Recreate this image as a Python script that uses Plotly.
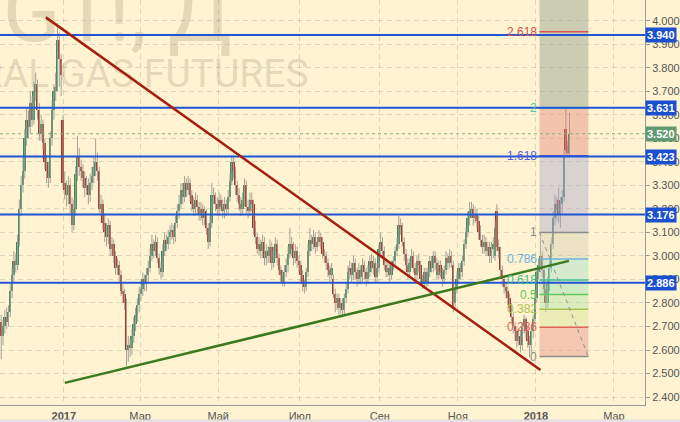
import pandas as pd
import plotly.graph_objects as go

# NG1! daily candles, 14 Nov 2016 .. 25 Jan 2018
opens = [
    2.72, 2.66, 2.70, 2.74, 2.72, 2.76, 2.85, 2.92, 2.98, 2.96,
    3.06, 3.20, 3.30, 3.36, 3.50, 3.58, 3.55, 3.65, 3.58, 3.70,
    3.73, 3.62, 3.52, 3.56, 3.48, 3.40, 3.36, 3.33, 3.50, 3.62,
    3.70, 3.72, 3.92, 3.84, 3.58, 3.31, 3.28, 3.26, 3.30, 3.22,
    3.13, 3.20, 3.35, 3.42, 3.38, 3.36, 3.33, 3.29, 3.30, 3.26,
    3.31, 3.34, 3.38, 3.40, 3.36, 3.20, 3.22, 3.14, 3.10, 3.08,
    3.13, 3.03, 3.05, 3.00, 2.95, 2.96, 2.92, 2.85, 2.84, 2.80,
    2.60, 2.62, 2.61, 2.66, 2.71, 2.75, 2.79, 2.84, 2.86, 2.90,
    2.88, 2.92, 2.95, 3.00, 3.05, 3.02, 3.06, 2.99, 2.95, 2.93,
    3.02, 3.07, 3.05, 3.08, 3.10, 3.11, 3.08, 3.14, 3.19, 3.22,
    3.28, 3.25, 3.31, 3.28, 3.31, 3.26, 3.22, 3.20, 3.24, 3.21,
    3.18, 3.20, 3.16, 3.19, 3.12, 3.06, 3.14, 3.26, 3.25, 3.22,
    3.20, 3.24, 3.21, 3.19, 3.22, 3.20, 3.25, 3.32, 3.40, 3.36,
    3.30, 3.26, 3.22, 3.20, 3.24, 3.30, 3.21, 3.19, 3.24, 3.22,
    3.12, 3.08, 3.03, 3.05, 3.02, 3.06, 2.99, 3.02, 3.00, 3.04,
    2.97, 3.02, 3.05, 2.99, 2.94, 2.92, 2.89, 2.93, 2.96, 3.01,
    3.05, 3.03, 2.99, 3.02, 2.98, 2.96, 2.92, 2.88, 2.87, 2.93,
    3.02, 3.07, 3.05, 3.08, 3.04, 3.06, 3.08, 3.06, 3.01, 3.00,
    2.97, 2.94, 2.92, 2.90, 2.84, 2.80, 2.82, 2.78, 2.80, 2.77,
    2.82, 2.86, 2.93, 2.95, 2.92, 2.97, 2.93, 2.90, 2.94, 2.91,
    2.96, 2.93, 2.90, 2.93, 2.98, 2.95, 2.97, 2.91, 2.95, 3.03,
    3.06, 3.02, 2.96, 2.93, 2.95, 2.92, 2.96, 2.98, 3.02, 3.05,
    3.13, 3.12, 3.06, 3.01, 2.96, 2.93, 2.97, 3.00, 2.95, 2.92,
    2.98, 2.96, 2.90, 2.88, 2.93, 2.89, 2.93, 2.98, 2.95, 3.00,
    2.97, 2.92, 2.96, 2.93, 2.90, 2.94, 2.99, 2.97, 3.00, 2.96,
    2.80, 2.86, 2.90, 2.95, 2.93, 2.98, 3.05, 3.10, 3.16, 3.19,
    3.20, 3.16, 3.18, 3.15, 3.10, 3.07, 3.04, 3.06, 3.02, 3.04,
    3.00, 3.03, 3.00, 3.19, 3.04, 3.02, 2.94, 2.90, 2.87, 2.85,
    2.82, 2.78, 2.74, 2.70, 2.68, 2.64, 2.66, 2.62, 2.70, 2.73,
    2.68, 2.64, 2.62, 2.68, 2.73, 2.82, 2.93, 2.96, 3.00, 2.94,
    2.86, 2.80, 2.88, 2.95, 3.05, 3.16, 3.22, 3.24, 3.18, 3.22,
    3.25, 3.54, 3.47, 3.44,
]
highs = [
    2.75, 2.73, 2.77, 2.78, 2.79, 2.88, 2.95, 3.02, 3.01, 3.09,
    3.24, 3.34, 3.42, 3.54, 3.63, 3.62, 3.70, 3.68, 3.74, 3.78,
    3.75, 3.65, 3.60, 3.58, 3.50, 3.43, 3.40, 3.53, 3.66, 3.73,
    3.78, 3.99, 3.95, 3.86, 3.60, 3.36, 3.32, 3.34, 3.33, 3.25,
    3.24, 3.38, 3.51, 3.46, 3.41, 3.39, 3.36, 3.34, 3.33, 3.35,
    3.38, 3.42, 3.50, 3.44, 3.38, 3.26, 3.24, 3.18, 3.14, 3.16,
    3.15, 3.08, 3.07, 3.02, 2.99, 2.98, 2.94, 2.88, 2.86, 2.82,
    2.66, 2.65, 2.69, 2.74, 2.78, 2.82, 2.87, 2.89, 2.93, 2.92,
    2.95, 2.98, 3.03, 3.09, 3.07, 3.09, 3.08, 3.01, 2.97, 3.05,
    3.10, 3.09, 3.11, 3.13, 3.14, 3.13, 3.17, 3.22, 3.26, 3.31,
    3.31, 3.34, 3.33, 3.34, 3.33, 3.28, 3.25, 3.27, 3.26, 3.23,
    3.23, 3.22, 3.21, 3.20, 3.14, 3.17, 3.31, 3.29, 3.27, 3.25,
    3.27, 3.26, 3.24, 3.25, 3.24, 3.28, 3.35, 3.43, 3.42, 3.38,
    3.32, 3.29, 3.25, 3.27, 3.33, 3.32, 3.24, 3.27, 3.27, 3.24,
    3.15, 3.10, 3.08, 3.07, 3.09, 3.08, 3.05, 3.04, 3.07, 3.06,
    3.04, 3.08, 3.07, 3.01, 2.96, 2.94, 2.96, 2.99, 3.04, 3.12,
    3.08, 3.06, 3.05, 3.04, 3.00, 2.98, 2.94, 2.90, 2.95, 3.05,
    3.12, 3.09, 3.11, 3.10, 3.08, 3.11, 3.10, 3.08, 3.03, 3.02,
    2.99, 2.96, 2.97, 2.92, 2.86, 2.84, 2.84, 2.82, 2.82, 2.84,
    2.89, 2.96, 2.98, 2.97, 3.00, 2.99, 2.95, 2.97, 2.96, 2.99,
    2.98, 2.95, 2.96, 3.00, 3.01, 3.00, 2.99, 2.97, 3.05, 3.10,
    3.08, 3.04, 2.99, 2.98, 2.97, 2.98, 3.00, 3.04, 3.08, 3.17,
    3.16, 3.14, 3.08, 3.03, 2.99, 2.99, 3.03, 3.02, 2.97, 3.00,
    3.01, 2.98, 2.92, 2.95, 2.95, 2.95, 3.00, 3.00, 3.02, 3.02,
    2.99, 2.98, 2.98, 2.95, 2.96, 3.02, 3.01, 3.03, 3.02, 2.98,
    2.88, 2.93, 2.97, 2.97, 3.00, 3.07, 3.12, 3.19, 3.23, 3.23,
    3.22, 3.21, 3.20, 3.17, 3.13, 3.09, 3.09, 3.08, 3.06, 3.06,
    3.06, 3.08, 3.15, 3.22, 3.07, 3.04, 2.96, 2.92, 2.89, 2.87,
    2.84, 2.80, 2.76, 2.72, 2.70, 2.69, 2.68, 2.72, 2.75, 2.74,
    2.70, 2.66, 2.70, 2.75, 2.85, 2.95, 2.99, 3.08, 3.02, 2.96,
    2.88, 2.91, 2.98, 3.08, 3.19, 3.26, 3.25, 3.29, 3.25, 3.28,
    3.45, 3.63, 3.49, 3.61,
]
lows = [
    2.56, 2.62, 2.67, 2.69, 2.70, 2.74, 2.82, 2.89, 2.93, 2.94,
    3.04, 3.17, 3.27, 3.33, 3.47, 3.50, 3.52, 3.55, 3.56, 3.66,
    3.58, 3.49, 3.49, 3.45, 3.37, 3.31, 3.29, 3.31, 3.47, 3.58,
    3.66, 3.70, 3.72, 3.68, 3.29, 3.24, 3.21, 3.22, 3.18, 3.10,
    3.11, 3.17, 3.32, 3.34, 3.32, 3.29, 3.25, 3.26, 3.22, 3.23,
    3.28, 3.31, 3.34, 3.32, 3.18, 3.17, 3.11, 3.06, 3.04, 3.05,
    3.00, 3.00, 2.97, 2.92, 2.92, 2.89, 2.83, 2.80, 2.77, 2.53,
    2.55, 2.57, 2.58, 2.63, 2.68, 2.72, 2.76, 2.81, 2.83, 2.85,
    2.85, 2.89, 2.93, 2.98, 2.99, 3.00, 2.97, 2.92, 2.90, 2.91,
    3.00, 3.02, 3.03, 3.05, 3.07, 3.05, 3.06, 3.12, 3.16, 3.20,
    3.22, 3.23, 3.25, 3.26, 3.23, 3.19, 3.17, 3.18, 3.18, 3.15,
    3.15, 3.13, 3.13, 3.09, 3.03, 3.04, 3.12, 3.22, 3.19, 3.17,
    3.17, 3.19, 3.16, 3.16, 3.17, 3.18, 3.23, 3.30, 3.33, 3.26,
    3.23, 3.19, 3.17, 3.18, 3.21, 3.18, 3.16, 3.17, 3.19, 3.09,
    3.05, 3.01, 3.00, 2.99, 2.99, 2.96, 2.96, 2.97, 2.97, 2.94,
    2.95, 2.99, 2.96, 2.92, 2.89, 2.87, 2.87, 2.91, 2.93, 2.99,
    3.00, 2.96, 2.97, 2.95, 2.93, 2.89, 2.85, 2.84, 2.85, 2.91,
    3.00, 3.02, 3.03, 3.01, 3.02, 3.04, 3.03, 2.99, 2.97, 2.94,
    2.91, 2.89, 2.90, 2.82, 2.76, 2.77, 2.75, 2.75, 2.74, 2.75,
    2.80, 2.84, 2.90, 2.89, 2.90, 2.90, 2.87, 2.88, 2.88, 2.89,
    2.90, 2.87, 2.88, 2.91, 2.93, 2.92, 2.89, 2.89, 2.93, 3.00,
    3.00, 2.94, 2.91, 2.91, 2.89, 2.90, 2.94, 2.96, 3.00, 3.03,
    3.09, 3.04, 2.98, 2.94, 2.90, 2.91, 2.95, 2.93, 2.89, 2.90,
    2.93, 2.88, 2.86, 2.86, 2.87, 2.87, 2.91, 2.93, 2.93, 2.94,
    2.90, 2.90, 2.91, 2.87, 2.88, 2.92, 2.94, 2.95, 2.95, 2.76,
    2.78, 2.84, 2.88, 2.90, 2.91, 2.96, 3.03, 3.08, 3.13, 3.16,
    3.13, 3.14, 3.12, 3.07, 3.04, 3.01, 3.01, 3.00, 3.00, 2.97,
    2.97, 2.99, 2.98, 3.02, 2.99, 2.91, 2.87, 2.84, 2.82, 2.79,
    2.76, 2.72, 2.67, 2.64, 2.61, 2.62, 2.59, 2.60, 2.67, 2.65,
    2.61, 2.57, 2.59, 2.65, 2.71, 2.80, 2.90, 2.93, 2.91, 2.83,
    2.76, 2.78, 2.85, 2.93, 3.03, 3.13, 3.15, 3.14, 3.12, 3.18,
    3.23, 3.42, 3.42, 3.42,
]
closes = [
    2.66, 2.70, 2.74, 2.72, 2.76, 2.85, 2.92, 2.98, 2.96, 3.06,
    3.20, 3.30, 3.36, 3.50, 3.58, 3.55, 3.65, 3.58, 3.70, 3.73,
    3.62, 3.52, 3.56, 3.48, 3.40, 3.36, 3.33, 3.50, 3.62, 3.70,
    3.72, 3.92, 3.84, 3.77, 3.31, 3.28, 3.26, 3.30, 3.22, 3.13,
    3.20, 3.35, 3.42, 3.38, 3.36, 3.33, 3.29, 3.30, 3.26, 3.31,
    3.34, 3.38, 3.40, 3.36, 3.20, 3.22, 3.14, 3.10, 3.08, 3.13,
    3.03, 3.05, 3.00, 2.95, 2.96, 2.92, 2.85, 2.84, 2.80, 2.60,
    2.62, 2.61, 2.66, 2.71, 2.75, 2.79, 2.84, 2.86, 2.90, 2.88,
    2.92, 2.95, 3.00, 3.05, 3.02, 3.06, 2.99, 2.95, 2.93, 3.02,
    3.07, 3.05, 3.08, 3.10, 3.11, 3.08, 3.14, 3.19, 3.22, 3.28,
    3.25, 3.31, 3.28, 3.31, 3.26, 3.22, 3.20, 3.24, 3.21, 3.18,
    3.20, 3.16, 3.19, 3.12, 3.06, 3.14, 3.26, 3.25, 3.22, 3.20,
    3.24, 3.21, 3.19, 3.22, 3.20, 3.25, 3.32, 3.40, 3.36, 3.30,
    3.26, 3.22, 3.20, 3.24, 3.30, 3.21, 3.19, 3.24, 3.22, 3.12,
    3.08, 3.03, 3.05, 3.02, 3.06, 2.99, 3.02, 3.00, 3.04, 2.97,
    3.02, 3.05, 2.99, 2.94, 2.92, 2.89, 2.93, 2.96, 3.01, 3.05,
    3.03, 2.99, 3.02, 2.98, 2.96, 2.92, 2.88, 2.87, 2.93, 3.02,
    3.07, 3.05, 3.08, 3.04, 3.06, 3.08, 3.06, 3.01, 3.00, 2.97,
    2.94, 2.92, 2.95, 2.84, 2.80, 2.82, 2.78, 2.80, 2.77, 2.82,
    2.86, 2.93, 2.95, 2.92, 2.97, 2.93, 2.90, 2.94, 2.91, 2.96,
    2.93, 2.90, 2.93, 2.98, 2.95, 2.97, 2.91, 2.95, 3.03, 3.06,
    3.02, 2.96, 2.93, 2.95, 2.92, 2.96, 2.98, 3.02, 3.05, 3.13,
    3.12, 3.06, 3.01, 2.96, 2.93, 2.97, 3.00, 2.95, 2.92, 2.98,
    2.96, 2.90, 2.88, 2.93, 2.89, 2.93, 2.98, 2.95, 3.00, 2.97,
    2.92, 2.96, 2.93, 2.90, 2.94, 2.99, 2.97, 3.00, 2.97, 2.78,
    2.86, 2.90, 2.95, 2.93, 2.98, 3.05, 3.10, 3.16, 3.19, 3.20,
    3.16, 3.18, 3.15, 3.10, 3.07, 3.04, 3.06, 3.02, 3.04, 3.00,
    3.03, 3.05, 3.12, 3.04, 3.02, 2.94, 2.90, 2.87, 2.85, 2.82,
    2.78, 2.74, 2.70, 2.68, 2.64, 2.66, 2.62, 2.70, 2.73, 2.68,
    2.64, 2.62, 2.68, 2.73, 2.82, 2.93, 2.96, 3.00, 2.94, 2.86,
    2.80, 2.88, 2.95, 3.05, 3.16, 3.22, 3.20, 3.18, 3.22, 3.25,
    3.42, 3.45, 3.44, 3.52,
]
assert len(opens) == len(highs) == len(lows) == len(closes)

# horizontal support / resistance levels and the last price
levels = [3.940, 3.631, 3.423, 3.176, 2.886]
last_price = 3.520

# fibonacci retracement drawn on the right
fib_low = 2.572
fib_high = 3.100
fib_ratios = [0, 0.236, 0.382, 0.5, 0.618, 0.786, 1, 1.618, 2, 2.618, 3.618]
fib_labels = ["0", "0.236", "0.382", "0.5", "0.618", "0.786", "1", "1.618", "2", "2.618", ""]

tick_dates = ["2017-01-02", "2017-03-01", "2017-05-01", "2017-07-03",
              "2017-09-01", "2017-11-01", "2018-01-01", "2018-03-01"]
tick_text = ["<b>2017</b>", "Мар", "Май", "Июл", "Сен", "Ноя", "<b>2018</b>", "Мар"]

BG = "#fff3d1"
GREEN = "#3b8a5c"
RED = "#ae2f1e"
WICK = "#a5a296"
BLUE = "#2155d6"
WM = "rgba(150,140,110,0.26)"
FONT = "Liberation Sans, Arial, sans-serif"

fib_line_colors = ["#8b8b8b", "#e0645c", "#a7c44c", "#5ccd5c", "#3fc18f",
                   "#6cb2de", "#8b8b8b", "#5a5ad2", "#48d0a0", "#d85050", "#d85050"]
fib_band_colors = [
    "rgba(228,136,128,0.4)", "rgba(208,226,143,0.4)", "rgba(168,226,163,0.4)",
    "rgba(138,221,178,0.4)", "rgba(153,221,203,0.4)", "rgba(208,201,178,0.4)",
    "rgba(160,160,210,0.4)", "rgba(223,126,118,0.4)", "rgba(128,146,133,0.4)",
    "rgba(128,146,133,0.4)",
]

dates = pd.bdate_range("2016-11-14", periods=len(closes)) + pd.Timedelta(hours=12)

fig = go.Figure()

# watermark
fig.add_trace(go.Scatter(
    x=[pd.Timestamp("2017-05-10 14:00")], y=[4.004], mode="text",
    text=["NG1!, Д"], textposition="middle left",
    textfont=dict(size=85, color=WM, family="Roboto"),
    hoverinfo="skip", showlegend=False,
))
fig.add_trace(go.Scatter(
    x=[pd.Timestamp("2017-07-07 19:00")], y=[3.762], mode="text",
    text=["NATURAL GAS FUTURES"], textposition="middle left",
    textfont=dict(size=39, color=WM, family="Roboto"),
    hoverinfo="skip", showlegend=False,
))

# wicks
wx, wy = [], []
for d, h, l in zip(dates, highs, lows):
    wx += [d, d, None]
    wy += [l, h, None]
fig.add_trace(go.Scatter(x=wx, y=wy, mode="lines", line=dict(color=WICK, width=1),
                         hoverinfo="skip", showlegend=False))

# bodies
body_base = [min(o, c) for o, c in zip(opens, closes)]
body_size = [max(abs(c - o), 0.005) for o, c in zip(opens, closes)]
body_color = [GREEN if c >= o else RED for o, c in zip(opens, closes)]
fig.add_trace(go.Bar(
    x=dates, y=body_size, base=body_base, width=86400000 * 1.05,
    marker=dict(color=body_color, line=dict(width=0)),
    hoverinfo="skip", showlegend=False,
))

# fibonacci bands, lines and labels
fib_x0 = "2018-01-03 00:00"
fib_x1 = "2018-02-08 21:00"
fib_prices = [fib_low + r * (fib_high - fib_low) for r in fib_ratios]
for k in range(len(fib_ratios) - 1):
    fig.add_shape(type="rect", xref="x", yref="y", x0=fib_x0, x1=fib_x1,
                  y0=fib_prices[k], y1=fib_prices[k + 1],
                  fillcolor=fib_band_colors[k], line=dict(width=0), layer="above")
for p, col, lab in zip(fib_prices[:-1], fib_line_colors, fib_labels):
    fig.add_shape(type="line", xref="x", yref="y", x0=fib_x0, x1=fib_x1, y0=p, y1=p,
                  line=dict(color=col, width=1.5), layer="above")
    fig.add_annotation(x=fib_x0, y=p, xref="x", yref="y", text=lab, showarrow=False,
                       xanchor="right", yanchor="middle", xshift=-1,
                       font=dict(size=12, color=col, family=FONT))
fig.add_shape(type="line", xref="x", yref="y", x0=fib_x0, x1=fib_x1,
              y0=fib_high, y1=fib_low, line=dict(color="#909090", width=1, dash="4px,4px"),
              layer="above")

# horizontal levels
for p in levels:
    fig.add_shape(type="line", xref="paper", yref="y", x0=0, x1=1, y0=p, y1=p,
                  line=dict(color=BLUE, width=2), layer="above")
    fig.add_annotation(x=1, y=p, xref="paper", yref="y", text="<b>%.3f</b>" % p,
                       showarrow=False, xanchor="left", yanchor="middle",
                       bgcolor="#1a4fd0", borderpad=1,
                       font=dict(size=11, color="white", family=FONT))

fig.add_shape(type="line", xref="paper", yref="y", x0=0, x1=1, y0=last_price, y1=last_price,
              line=dict(color="#86b07e", width=1, dash="dot"), layer="above")
fig.add_annotation(x=1, y=last_price, xref="paper", yref="y", text="<b>%.3f</b>" % last_price,
                   showarrow=False, xanchor="left", yanchor="middle",
                   bgcolor="#5f9a70", borderpad=1,
                   font=dict(size=11, color="white", family=FONT))

# trend lines
fig.add_shape(type="line", xref="x", yref="y", x0="2016-12-19 02:00", y0=4.015,
              x1="2018-01-03 12:00", y1=2.515, line=dict(color="#a51f0e", width=2.5),
              layer="above")
fig.add_shape(type="line", xref="x", yref="y", x0="2017-01-02 12:00", y0=2.460,
              x1="2018-01-25 05:00", y1=2.979, line=dict(color="#3b7a1e", width=2.5),
              layer="above")

# bottom strip
fig.add_shape(type="rect", xref="paper", yref="paper", x0=0, x1=1.06, y0=-0.0355, y1=-0.05,
              fillcolor="#e3e3e3", line=dict(width=0), layer="above")

fig.update_layout(
    width=680, height=422,
    margin=dict(l=0, r=32, t=0, b=17),
    paper_bgcolor=BG, plot_bgcolor=BG,
    showlegend=False, bargap=0,
    font=dict(family=FONT, size=11, color="#555555"),
)
fig.update_xaxes(
    type="date",
    range=["2016-11-11 20:00", "2018-03-26 02:00"],
    rangebreaks=[dict(bounds=["sat", "mon"])],
    tickvals=tick_dates, ticktext=tick_text,
    showgrid=True, gridcolor="rgba(150,150,150,0.3)", griddash="5px,4px",
    showline=True, linecolor="#9a9a9a", linewidth=1,
    ticks="", ticklabelstandoff=1,
    tickfont=dict(size=11, color="#555555"),
    zeroline=False, fixedrange=True,
)
fig.update_yaxes(
    side="right",
    range=[2.366, 4.089],
    tick0=2.4, dtick=0.1, tickformat=".3f",
    showgrid=True, gridcolor="rgba(150,150,150,0.3)", griddash="5px,4px",
    showline=True, linecolor="#9a9a9a", linewidth=1,
    ticks="outside", ticklen=4, tickcolor="#9a9a9a",
    tickfont=dict(size=11, color="#555555"),
    zeroline=False,
)

fig.write_html("out.html", config={"displayModeBar": False},
               post_script="document.body.style.margin='0';")
